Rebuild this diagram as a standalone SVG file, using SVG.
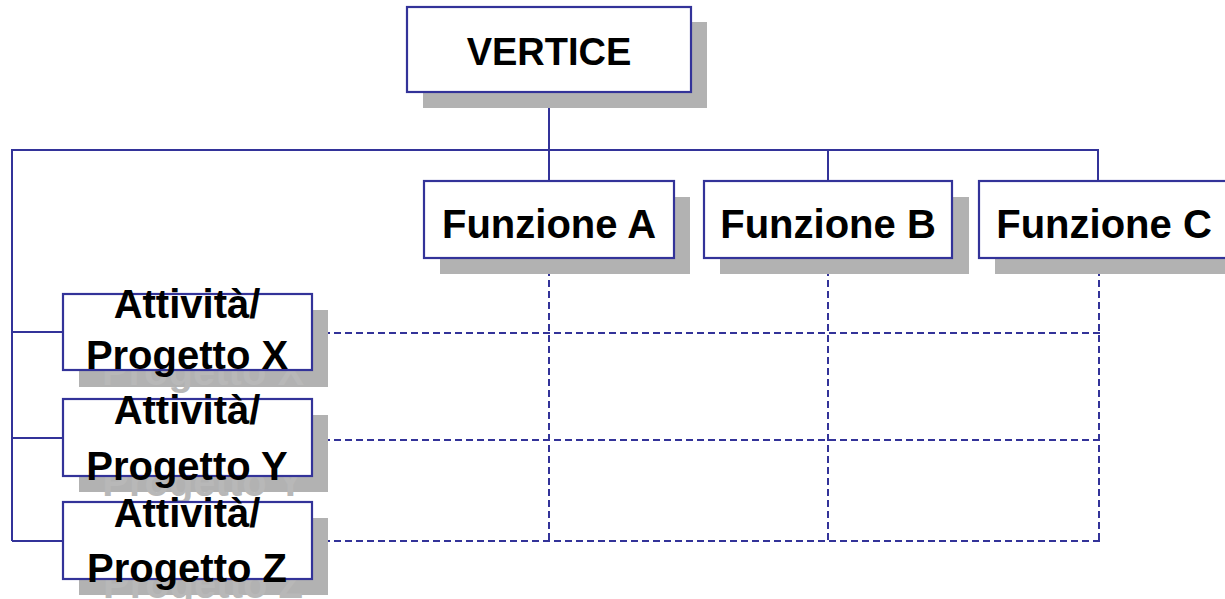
<svg xmlns="http://www.w3.org/2000/svg" width="1225" height="599" viewBox="0 0 1225 599">
  <style>
    .box { fill: #ffffff; stroke: #333399; stroke-width: 2.2; }
    .shadow { fill: #b2b2b2; }
    .label { font-family: "Liberation Sans", Arial, sans-serif; font-weight: bold; text-anchor: middle; fill: #000000; }
    .shadow-label { font-family: "Liberation Sans", Arial, sans-serif; font-weight: bold; text-anchor: middle; fill: #b8b8b8; }
    .solid { stroke: #333399; stroke-width: 2; fill: none; }
    .dashed { stroke: #333399; stroke-width: 2; fill: none; stroke-dasharray: 7 4; }
  </style>
  <rect width="1225" height="599" fill="#ffffff"/>

  <!-- connectors -->
  <g id="connectors">
    <!-- hierarchy -->
    <line class="solid" x1="549" y1="92" x2="549" y2="150"/>
    <polyline class="solid" points="12,541 12,150 1098,150 1098,181"/>
    <line class="solid" x1="549" y1="150" x2="549" y2="181"/>
    <line class="solid" x1="828" y1="150" x2="828" y2="181"/>
    <line class="solid" x1="12" y1="332" x2="63" y2="332"/>
    <line class="solid" x1="12" y1="438" x2="63" y2="438"/>
    <line class="solid" x1="12" y1="541" x2="63" y2="541"/>
    <!-- matrix grid -->
    <line class="dashed" x1="549" y1="258" x2="549" y2="541"/>
    <line class="dashed" x1="828" y1="258" x2="828" y2="541"/>
    <line class="dashed" x1="1099" y1="258" x2="1099" y2="541"/>
    <line class="dashed" x1="312" y1="333" x2="1100" y2="333"/>
    <line class="dashed" x1="312" y1="440" x2="1100" y2="440"/>
    <line class="dashed" x1="312" y1="541" x2="1101" y2="541"/>
  </g>

  <!-- top node -->
  <g id="vertice">
    <rect class="shadow" x="423" y="22" width="284" height="86"/>
    <rect class="box" x="407" y="7" width="284" height="85"/>
    <text class="label" x="549" y="65" font-size="38">VERTICE</text>
  </g>

  <!-- functions -->
  <g id="funzione-a">
    <rect class="shadow" x="440" y="197" width="250" height="77"/>
    <rect class="box" x="424" y="181" width="250" height="77"/>
    <text class="label" x="549" y="238" font-size="40">Funzione A</text>
  </g>
  <g id="funzione-b">
    <rect class="shadow" x="720" y="197" width="249" height="77"/>
    <rect class="box" x="704" y="181" width="248" height="77"/>
    <text class="label" x="828" y="238" font-size="40">Funzione B</text>
  </g>
  <g id="funzione-c">
    <rect class="shadow" x="995" y="197" width="250" height="77"/>
    <rect class="box" x="979" y="181" width="250" height="77"/>
    <text class="label" x="1104" y="238" font-size="40">Funzione C</text>
  </g>

  <!-- projects: each shadow carries a grey copy of the label -->
  <g id="progetto-x">
    <rect class="shadow" x="79" y="310" width="249" height="77"/>
    <text class="shadow-label" x="203" y="335" font-size="40">Attività/</text>
    <text class="shadow-label" x="203" y="385" font-size="40">Progetto X</text>
    <rect class="box" x="63" y="294" width="249" height="76"/>
    <text class="label" x="187" y="318" font-size="40">Attività/</text>
    <text class="label" x="187" y="369" font-size="40">Progetto X</text>
  </g>
  <g id="progetto-y">
    <rect class="shadow" x="79" y="415" width="249" height="77"/>
    <text class="shadow-label" x="203" y="440" font-size="40">Attività/</text>
    <text class="shadow-label" x="203" y="496" font-size="40">Progetto Y</text>
    <rect class="box" x="63" y="399" width="249" height="77"/>
    <text class="label" x="187" y="424" font-size="40">Attività/</text>
    <text class="label" x="187" y="480" font-size="40">Progetto Y</text>
  </g>
  <g id="progetto-z">
    <rect class="shadow" x="79" y="518" width="249" height="77"/>
    <text class="shadow-label" x="203" y="543" font-size="40">Attività/</text>
    <text class="shadow-label" x="203" y="598" font-size="40">Progetto Z</text>
    <rect class="box" x="63" y="502" width="249" height="77"/>
    <text class="label" x="187" y="527" font-size="40">Attività/</text>
    <text class="label" x="187" y="582" font-size="40">Progetto Z</text>
  </g>
</svg>
